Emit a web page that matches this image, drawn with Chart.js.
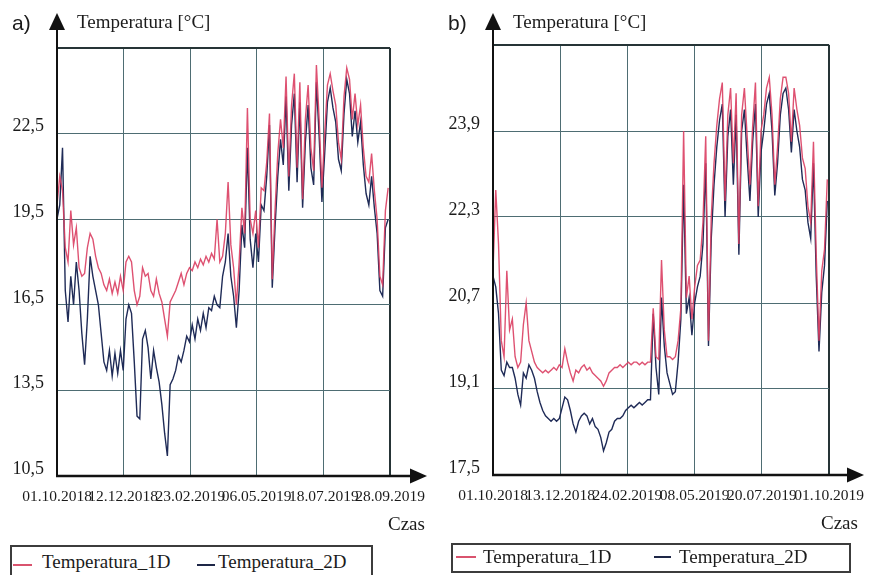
<!DOCTYPE html>
<html lang="pl">

<head>
    <meta charset="UTF-8">
    <title>Temperatura 1D / 2D</title>

    <script src="https://cdn.jsdelivr.net/npm/chart.js"></script>

    <style>
        body {
            margin: 0;
            background: #fff;
        }

        #wrap {
            position: relative;
            width: 876px;
            height: 575px;
            overflow: hidden;
            font-family: "Liberation Serif", "DejaVu Serif", serif;
            color: #1b1b1b;
        }

        canvas {
            position: absolute;
            top: 0;
        }

        .txt {
            position: absolute;
            font-size: 19px;
            line-height: 19px;
            white-space: nowrap;
        }

        .tag {
            position: absolute;
            font-family: "Liberation Sans", Arial, sans-serif;
            font-size: 21px;
            line-height: 21px;
        }

        .legend {
            position: absolute;
            border: 2px solid #3c3c3c;
            box-sizing: border-box;
            background: #fff;
        }

        .swatch {
            position: absolute;
            height: 2px;
        }
    </style>
</head>

<body>
    <div id="wrap">
        <canvas id="chartA" width="438" height="540" style="left:0"></canvas>
        <canvas id="chartB" width="440" height="540" style="left:436px"></canvas>

        <!-- panel a) -->
        <div class="tag" style="left:12px;top:12px">a)</div>
        <div class="txt" style="left:77px;top:12px">Temperatura [°C]</div>
        <div class="txt" style="left:388px;top:514px">Czas</div>
        <div class="legend" style="left:10px;top:545px;width:363px;height:36px"></div>
        <div class="swatch" style="left:13px;top:564px;width:19px;background:#d9536e"></div>
        <div class="txt" style="left:42px;top:552px">Temperatura_1D</div>
        <div class="swatch" style="left:197px;top:564px;width:18px;background:#1e2747"></div>
        <div class="txt" style="left:218px;top:552px">Temperatura_2D</div>

        <!-- panel b) -->
        <div class="tag" style="left:448px;top:12px">b)</div>
        <div class="txt" style="left:513px;top:12px">Temperatura [°C]</div>
        <div class="txt" style="left:821px;top:513px">Czas</div>
        <div class="legend" style="left:451px;top:543px;width:400px;height:30px"></div>
        <div class="swatch" style="left:456px;top:556px;width:20px;background:#d9536e"></div>
        <div class="txt" style="left:483px;top:547px">Temperatura_1D</div>
        <div class="swatch" style="left:654px;top:556px;width:17px;background:#1e2747"></div>
        <div class="txt" style="left:679px;top:547px">Temperatura_2D</div>
    </div>

    <script type="text/javascript">
        // odczyt co 3 dni od 01.10.2018
        const dayStep = 3;

        // a) - dni osi X i etykiety
        const xTickDaysA = [0, 72, 145, 217, 290, 362];
        const xTickLabelsA = ['01.10.2018', '12.12.2018', '23.02.2019', '06.05.2019', '18.07.2019', '28.09.2019'];
        const yTicksA = [10.5, 13.5, 16.5, 19.5, 22.5, 25.5];

        const tempA_1D = [
            20.0, 21.0, 20.5, 18.5, 18.0, 19.8, 18.6, 19.2, 17.8, 17.5,
            17.6, 18.5, 19.0, 18.8, 18.2, 17.8, 17.6, 17.2, 17.0, 17.4,
            16.9, 17.3, 16.9, 17.5, 17.0, 18.0, 18.2, 18.0, 17.0, 16.5,
            16.8, 17.8, 17.5, 17.6, 17.0, 16.8, 17.4, 16.9, 16.6, 16.0,
            15.4, 16.6, 16.8, 17.0, 17.3, 17.6, 17.2, 17.6, 17.8, 17.7,
            18.0, 17.8, 18.1, 17.9, 18.2, 18.0, 18.3, 18.1, 19.5, 18.0,
            18.2, 19.0, 20.8, 18.6, 17.8, 16.5, 18.0, 19.9, 19.0, 23.4,
            19.5, 19.0, 19.8, 18.5, 20.6, 20.5, 21.5, 23.2, 17.4, 19.8,
            21.8, 23.0, 22.0, 24.5, 21.0, 23.5, 24.6, 21.3, 24.3, 20.2,
            23.0, 24.2, 22.0, 21.2, 24.9, 23.0, 20.6, 22.5, 24.2, 24.6,
            24.0, 23.5, 22.2, 21.6, 23.8, 24.8, 24.4, 23.0, 23.9, 22.8,
            23.5, 22.0, 21.0, 20.8, 21.8, 20.5, 19.5, 17.5, 17.2, 19.8,
            20.6
        ];
        const tempA_2D = [
            19.5, 20.0, 22.0, 17.0, 15.9, 17.5, 16.5, 18.0, 17.0, 15.5,
            14.4, 16.0, 18.2, 17.5, 17.0, 16.5, 15.5, 14.5, 14.2, 14.9,
            14.0, 14.8, 14.1, 14.9, 14.2, 16.0, 16.5, 16.2, 14.5, 12.6,
            12.5, 15.3, 15.6, 15.0, 13.9, 14.9, 14.3, 13.8, 13.0, 12.0,
            11.2, 13.7, 13.9, 14.2, 14.7, 14.5, 14.9, 15.4, 15.2, 15.8,
            15.3, 16.0, 15.6, 16.2, 15.7, 16.4, 16.3, 16.8, 16.5, 16.4,
            17.5, 18.0, 19.0, 17.5, 16.8, 15.7, 17.0, 19.3, 18.5, 22.0,
            18.8, 17.8, 19.0, 18.0, 20.0, 19.8, 21.0, 22.8, 17.1, 19.2,
            21.0, 22.3, 21.4, 23.8, 20.5, 22.8, 23.9, 20.8, 23.6, 19.9,
            22.2, 23.5, 21.3, 20.7, 24.3, 22.4, 20.1, 21.8, 23.6, 24.1,
            23.4, 22.9, 21.6, 21.2, 23.2, 24.4, 23.9, 22.4, 23.3, 22.2,
            22.9, 21.4, 20.4, 20.0, 21.0, 19.9, 19.0, 17.0, 16.8, 19.2,
            19.5
        ];

        // b) - dni osi X i etykiety
        const xTickDaysB = [0, 73, 146, 219, 292, 365];
        const xTickLabelsB = ['01.10.2018', '13.12.2018', '24.02.2019', '08.05.2019', '20.07.2019', '01.10.2019'];
        const yTicksB = [17.5, 19.1, 20.7, 22.3, 23.9, 25.5];

        const tempB_1D = [
            21.3, 22.8, 21.8, 20.0, 19.7, 21.3, 20.2, 20.4, 19.7, 19.5,
            19.6, 20.3, 20.7, 20.0, 19.8, 19.6, 19.5, 19.45, 19.4, 19.45,
            19.4, 19.45, 19.5, 19.45, 19.55, 19.5, 19.85, 19.6, 19.4, 19.25,
            19.45, 19.4, 19.5, 19.55, 19.45, 19.5, 19.4, 19.35, 19.3, 19.25,
            19.15, 19.25, 19.4, 19.45, 19.5, 19.5, 19.55, 19.5, 19.55, 19.6,
            19.55, 19.6, 19.6, 19.55, 19.6, 19.55, 19.6, 19.6, 20.6, 19.7,
            19.65, 21.5, 20.2, 19.7, 19.7, 19.65, 19.7, 20.0, 20.6, 23.9,
            20.8, 21.2, 20.4, 21.0, 21.4, 21.5, 22.2, 23.8, 20.0, 22.3,
            23.3, 24.0, 24.5, 24.8, 22.6, 24.2, 24.7, 23.3, 24.6, 21.8,
            24.2, 24.7, 23.8, 22.9, 24.0, 24.8, 22.5, 23.9, 24.2, 24.7,
            24.9, 24.2, 22.9, 23.6, 24.5, 24.9, 24.9, 24.6, 23.7, 24.7,
            24.3, 24.0, 23.4, 23.2, 22.5, 22.2, 23.7, 21.6, 20.0, 21.3,
            21.7, 23.0
        ];
        const tempB_2D = [
            21.2, 21.0, 20.5, 19.45, 19.35, 19.6, 19.5, 19.5, 19.3, 19.0,
            18.8, 19.4, 19.3, 19.55, 19.45, 19.3, 19.05, 18.85, 18.7, 18.6,
            18.55, 18.5, 18.55, 18.5, 18.55, 18.75, 18.95, 18.9, 18.7, 18.45,
            18.3, 18.5, 18.6, 18.65, 18.6, 18.45, 18.55, 18.4, 18.35, 18.2,
            17.95, 18.1, 18.3, 18.35, 18.5, 18.55, 18.55, 18.6, 18.7, 18.75,
            18.8, 18.75, 18.8, 18.85, 18.8, 18.85, 18.9, 18.9, 20.5, 19.5,
            19.0, 20.8, 19.9, 19.4, 19.2, 19.0, 19.05, 19.6, 20.4, 22.9,
            20.5, 20.8, 20.1, 20.7, 21.0, 21.2, 21.8, 23.3, 19.9, 21.9,
            22.9, 23.6, 24.1, 24.4, 22.3, 23.8, 24.3, 22.9, 24.2, 21.6,
            23.9, 24.3, 23.4, 22.6, 23.7, 24.4, 22.3, 23.5, 23.9, 24.4,
            24.6, 23.9, 22.7, 23.3, 24.2, 24.6, 24.7, 24.3, 23.5, 24.3,
            23.9, 23.6, 23.0, 22.8, 22.2, 21.9, 23.3, 21.2, 19.8, 20.9,
            21.4, 22.6
        ];

        const color1D = 'rgba(218, 62, 98, 0.9)';
        const color2D = '#1f2b57';
        const gridColor = '#4e6d73';
        const edgeColor = '#263436';
        const tickFont = '"Liberation Serif", "DejaVu Serif", serif';
        const dateFont = '"Liberation Sans Narrow", "Liberation Serif", sans-serif';

        // osie ze strzałkami
        const axisArrows = {
            id: 'axisArrows',
            afterDraw(chart, args, opts) {
                const ctx = chart.ctx;
                const a = chart.chartArea;
                ctx.save();
                ctx.strokeStyle = '#111';
                ctx.fillStyle = '#111';

                ctx.lineWidth = 2;
                ctx.beginPath();
                ctx.moveTo(a.left, a.bottom);
                ctx.lineTo(a.left, opts.topTip + 16);
                ctx.stroke();
                ctx.beginPath();
                ctx.moveTo(a.left, opts.topTip);
                ctx.lineTo(a.left - 8, opts.topTip + 17);
                ctx.lineTo(a.left + 8, opts.topTip + 17);
                ctx.closePath();
                ctx.fill();

                ctx.lineWidth = 2.5;
                ctx.beginPath();
                ctx.moveTo(a.left - 1, a.bottom);
                ctx.lineTo(opts.rightTip - 16, a.bottom);
                ctx.stroke();
                ctx.beginPath();
                ctx.moveTo(opts.rightTip, a.bottom);
                ctx.lineTo(opts.rightTip - 17, a.bottom - 7.5);
                ctx.lineTo(opts.rightTip - 17, a.bottom + 7.5);
                ctx.closePath();
                ctx.fill();
                ctx.restore();
            }
        };

        function toPoints(values) {
            return values.map((v, i) => ({ x: i * dayStep, y: v }));
        }

        function makeChart(id, cfg) {
            const ctx = document.getElementById(id).getContext('2d');
            const lastY = cfg.yTicks.length - 1;
            const lastX = cfg.xDays.length - 1;

            return new Chart(ctx, {
                type: 'line',
                data: {
                    datasets: [{
                        label: 'Temperatura_1D',
                        data: toPoints(cfg.d1),
                        borderColor: color1D,
                        borderWidth: 1.4,
                        pointRadius: 0,
                        tension: 0,
                        fill: false
                    }, {
                        label: 'Temperatura_2D',
                        data: toPoints(cfg.d2),
                        borderColor: color2D,
                        borderWidth: 1.4,
                        pointRadius: 0,
                        tension: 0,
                        fill: false
                    }]
                },
                options: {
                    responsive: false,
                    animation: false,
                    devicePixelRatio: 1,
                    layout: { padding: cfg.padding },
                    plugins: {
                        legend: { display: false },
                        tooltip: { enabled: false },
                        axisArrows: { topTip: 13, rightTip: cfg.rightTip }
                    },
                    scales: {
                        x: {
                            type: 'linear',
                            min: cfg.xDays[0],
                            max: cfg.xDays[lastX],
                            afterBuildTicks: s => { s.ticks = cfg.xDays.map(v => ({ value: v })); },
                            afterFit: s => { s.height = 40; },
                            border: { display: false },
                            grid: {
                                drawTicks: false,
                                color: c => c.index === lastX ? edgeColor : gridColor,
                                lineWidth: c => c.index === lastX ? 2 : 1
                            },
                            ticks: {
                                autoSkip: false,
                                maxRotation: 0,
                                padding: 12,
                                color: '#1b1b1b',
                                font: { family: dateFont, size: 15.5 },
                                callback: (v, i) => cfg.xLabels[i]
                            }
                        },
                        y: {
                            min: cfg.yTicks[0],
                            max: cfg.yTicks[lastY],
                            afterBuildTicks: s => { s.ticks = cfg.yTicks.map(v => ({ value: v })); },
                            afterFit: s => { s.width = 57; },
                            border: { display: false },
                            grid: {
                                drawTicks: false,
                                color: c => c.index === lastY ? edgeColor : gridColor,
                                lineWidth: c => c.index === lastY ? 2 : 1
                            },
                            ticks: {
                                padding: 13,
                                labelOffset: -7,
                                color: '#1b1b1b',
                                font: { family: tickFont, size: 18 },
                                callback: (v, i) => i === lastY ? '' : v.toFixed(1).replace('.', ',')
                            }
                        }
                    }
                },
                plugins: [axisArrows]
            });
        }

        makeChart('chartA', {
            d1: tempA_1D, d2: tempA_2D,
            xDays: xTickDaysA, xLabels: xTickLabelsA, yTicks: yTicksA,
            padding: { left: 0, top: 48, right: 48, bottom: 24 },
            rightTip: 427
        });

        makeChart('chartB', {
            d1: tempB_1D, d2: tempB_2D,
            xDays: xTickDaysB, xLabels: xTickLabelsB, yTicks: yTicksB,
            padding: { left: 0, top: 45, right: 42, bottom: 25 },
            rightTip: 428
        });
    </script>
</body>

</html>
